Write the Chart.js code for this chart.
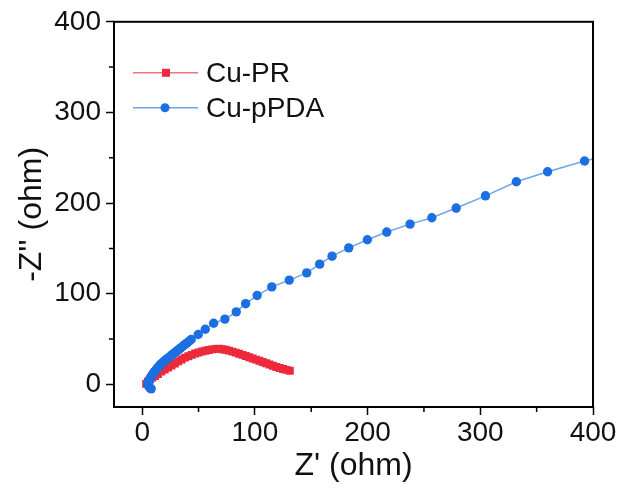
<!DOCTYPE html>
<html lang="en">
<head>
    <meta charset="UTF-8">
    <title>Nyquist plot</title>
    <style>
        html, body {
            margin: 0;
            padding: 0;
            background: #fff;
        }
        #chart {
            display: block;
        }
    </style>
</head>
<body>
    <canvas id="chart" width="624" height="491"></canvas>
<script src="https://cdn.jsdelivr.net/npm/chart.js"></script>
<script>
    // Cu-PR (red squares)
    const prZre = [3.5, 5, 7, 9, 11.3, 14, 17, 20, 23, 26, 29, 32, 35, 38, 41, 44, 47, 50, 53, 56, 59, 62, 65, 68, 71, 74, 77, 80, 83, 86, 89, 92, 95, 98, 101, 104, 107, 110, 113, 116, 119, 122, 125, 128, 131];
    const prZim = [0.5, 3, 5.5, 7.5, 9.2, 11.5, 14, 16.2, 18.4, 20.8, 23, 25.5, 27.5, 29.5, 31, 32.5, 34, 35.2, 36.2, 37, 37.8, 38.6, 39.1, 39.2, 38.8, 38.1, 37.2, 36.1, 35, 33.8, 32.5, 31.2, 29.9, 28.6, 27.3, 26, 24.6, 23.2, 21.8, 20.5, 19.2, 18, 17, 16, 15];

    // Cu-pPDA (blue circles)
    const pdaZre = [8, 7, 6, 5.5, 5, 5.5, 6, 6.5, 7, 8, 9, 10, 11, 12, 13, 14, 15, 16, 17.2, 18.4, 19.6, 21, 22.4, 23.8, 25.2, 26.6, 28, 29.5, 31, 32.6, 34.2, 36, 37.8, 39.8, 41.6, 43.5, 49.7, 56, 63.4, 73.4, 83.5, 91.8, 102, 115, 130.5, 146, 157.5, 168.5, 183.3, 199.8, 217, 237.7, 257, 278.6, 304.6, 332, 359.7, 392.5, 430];
    const pdaZim = [-5, -4, -2.5, -1, 0.5, 2, 3.5, 5, 6.5, 8.5, 10.5, 12.3, 14, 15.5, 17, 18.5, 20, 21.4, 22.8, 24.2, 25.6, 27, 28.4, 29.8, 31.2, 32.6, 34, 35.5, 37, 38.6, 40.2, 42, 43.8, 45.8, 47.6, 49.5, 55, 60.8, 67.4, 72, 80, 89, 98, 107.5, 115, 123, 132.6, 141.4, 150.6, 159.5, 168, 176.8, 183.8, 194.5, 208, 223.5, 234.6, 246.4, 258];

    const majorTicks = [0, 100, 200, 300, 400];
    const minorTicks = [50, 150, 250, 350];
    const axisMin = -25, axisMax = 400;

    const red = '#ec2a3c';
    const blue = '#1c6fe0';
    const fontFamily = '"Liberation Sans", Arial, sans-serif';

    const toPoints = (xs, ys) => xs.map((v, i) => ({x: v, y: ys[i]}));

    let legendItems = [
        {label: 'Cu-PR', color: red, line: '#f27480', style: 'rect'},
        {label: 'Cu-pPDA', color: blue, line: '#6fa3ee', style: 'circle'}
    ];

    const frame = {
        id: 'frame',
        afterDraw(chart) {
            const {ctx, chartArea: a, scales} = chart;
            ctx.save();
            ctx.strokeStyle = '#000';
            ctx.lineWidth = 2;
            ctx.strokeRect(a.left, a.top, a.right - a.left, a.bottom - a.top);

            // minor ticks
            ctx.lineWidth = 1.5;
            ctx.beginPath();
            minorTicks.forEach(v => {
                let px = scales.x.getPixelForValue(v);
                ctx.moveTo(px, a.bottom);
                ctx.lineTo(px, a.bottom + 5);
                let py = scales.y.getPixelForValue(v);
                ctx.moveTo(a.left - 5, py);
                ctx.lineTo(a.left, py);
            });
            ctx.stroke();

            // legend, top left inside the frame
            legendItems.forEach((it, i) => {
                let yy = a.top + 51 + i * 35;
                let x0 = a.left + 19;
                ctx.strokeStyle = it.line;
                ctx.lineWidth = 1.5;
                ctx.beginPath();
                ctx.moveTo(x0, yy);
                ctx.lineTo(x0 + 65, yy);
                ctx.stroke();
                ctx.fillStyle = it.color;
                if (it.style == 'rect') {
                    ctx.fillRect(x0 + 29, yy - 4, 8, 8);
                } else {
                    ctx.beginPath();
                    ctx.arc(x0 + 32, yy, 4.5, 0, Math.PI * 2);
                    ctx.fill();
                }
                ctx.fillStyle = '#111';
                ctx.font = '28px ' + fontFamily;
                ctx.textBaseline = 'middle';
                ctx.fillText(it.label, x0 + 73, yy + 1);
            });
            ctx.restore();
        }
    };

    let axisCommon = (title, titlePad) => ({
        type: 'linear',
        min: axisMin,
        max: axisMax,
        afterBuildTicks: (s) => {
            s.ticks = majorTicks.map(v => ({value: v}));
        },
        border: {display: false},
        grid: {
            drawOnChartArea: false,
            drawTicks: true,
            tickLength: 8,
            tickWidth: 1.5,
            tickColor: '#000'
        },
        ticks: {
            color: '#111',
            font: {size: 28, family: fontFamily},
            maxRotation: 0,
            autoSkip: false
        },
        title: {
            display: true,
            text: title,
            color: '#111',
            font: {size: 32, family: fontFamily},
            padding: titlePad
        }
    });

    let xAxis = axisCommon("Z' (ohm)", {top: 0, bottom: 6});
    xAxis.position = 'bottom';
    xAxis.ticks.padding = 1;
    xAxis.afterFit = (s) => { s.height = 84; };

    let yAxis = axisCommon("-Z'' (ohm)", {top: 13, bottom: 0});
    yAxis.position = 'left';
    yAxis.ticks.padding = 5;
    yAxis.afterFit = (s) => { s.width = 114; };

    const chart = new Chart(document.getElementById('chart'), {
        type: 'scatter',
        data: {
            datasets: [{
                label: 'Cu-PR',
                data: toPoints(prZre, prZim),
                order: 1,
                showLine: true,
                borderColor: '#f27480',
                borderWidth: 1,
                backgroundColor: red,
                pointStyle: 'rect',
                pointRadius: 5.6,
                pointBorderWidth: 0,
                pointBorderColor: red
            }, {
                label: 'Cu-pPDA',
                data: toPoints(pdaZre, pdaZim),
                order: 0,
                showLine: true,
                borderColor: '#6fa3ee',
                borderWidth: 1.5,
                backgroundColor: blue,
                pointStyle: 'circle',
                pointRadius: 4.7,
                pointBorderWidth: 0,
                pointBorderColor: blue
            }]
        },
        options: {
            responsive: false,
            animation: false,
            layout: {
                padding: {top: 21, right: 31, left: 0, bottom: 0}
            },
            plugins: {
                legend: {display: false},
                tooltip: {enabled: false}
            },
            scales: {
                x: xAxis,
                y: yAxis
            }
        },
        plugins: [frame]
    });
</script>
</body>
</html>
